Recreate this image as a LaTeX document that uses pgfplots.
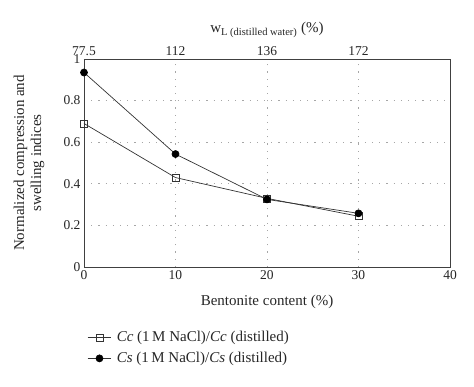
\documentclass[border=0pt]{standalone}
\usepackage{pgfplots}
\pgfplotsset{compat=1.18}
\usepackage{fontspec}
\setmainfont{Liberation Serif}
\begin{document}
\begin{tikzpicture}
\useasboundingbox (-84pt,-120pt) rectangle (390pt,267pt);
\begin{axis}[
  at={(0,0)}, anchor=south west,
  scale only axis, width=366pt, height=208pt,
  xmin=0, xmax=40, ymin=0, ymax=1,
  xtick={0,10,20,30,40}, ytick={0,0.2,0.4,0.6,0.8,1},
  yticklabels={0,0.2,0.4,0.6,0.8,1},
  /pgf/number format/assume math mode=true,
  major tick length=0pt,
  grid=major,
  grid style={dash pattern=on 1.2pt off 6pt, gray!70, line width=0.9pt},
  axis line style={black!75, line width=0.8pt},
  tick label style={font=\fontsize{13.5}{15}\selectfont, black!85},
  label style={font=\fontsize{15}{17}\selectfont, black!85},
  xlabel={Bentonite content (\%)},
  ylabel={Normalized compression and\\swelling indices},
  ylabel style={align=center, at={(-0.15,0.5)}, anchor=center},
  xlabel style={at={(0.5,-0.17)}, anchor=center},
  legend style={draw=none, fill=none, at={(0,-0.29)}, anchor=north west,
    font=\fontsize{15}{17}\selectfont, row sep=5pt, text=black!85,
    nodes={inner xsep=5pt}},
  legend cell align=left,
  legend image code/.code={\draw[mark repeat=2,mark phase=2,#1] plot coordinates {(0cm,0cm) (0.42cm,0cm) (0.84cm,0cm)};},
]
\addplot[black!80, line width=0.7pt, mark=square, mark size=3.5pt, mark options={fill=white, black!80}]
  coordinates {(0,0.69) (10,0.43) (20,0.33) (30,0.244)};
\addlegendentry{\textit{Cc} (1\,M NaCl)/\textit{Cc} (distilled)}
\addplot[black!80, line width=0.7pt, mark=*, mark size=3.5pt, mark options={fill=black, black}]
  coordinates {(0,0.935) (10,0.543) (20,0.325) (30,0.258)};
\addlegendentry{\textit{Cs} (1\,M NaCl)/\textit{Cs} (distilled)}
\end{axis}
\begin{axis}[
  at={(0,0)}, anchor=south west,
  scale only axis, width=366pt, height=208pt,
  xmin=0, xmax=40, ymin=0, ymax=1,
  axis x line*=top, axis y line=none,
  xtick={0,10,20,30}, xticklabels={77.5,112,136,172},
  major tick length=0pt,
  /pgf/number format/assume math mode=true,
  axis line style={black!75, line width=0.8pt},
  tick label style={font=\fontsize{13.5}{15}\selectfont, black!85},
  xlabel={w\textsubscript{L (distilled water)} (\%)},
  xlabel style={font=\fontsize{15}{17}\selectfont, black!85, at={(0.5,1.14)}, anchor=center},
]
\addplot[draw=none] coordinates {(0,0)};
\end{axis}
\end{tikzpicture}
\end{document}
